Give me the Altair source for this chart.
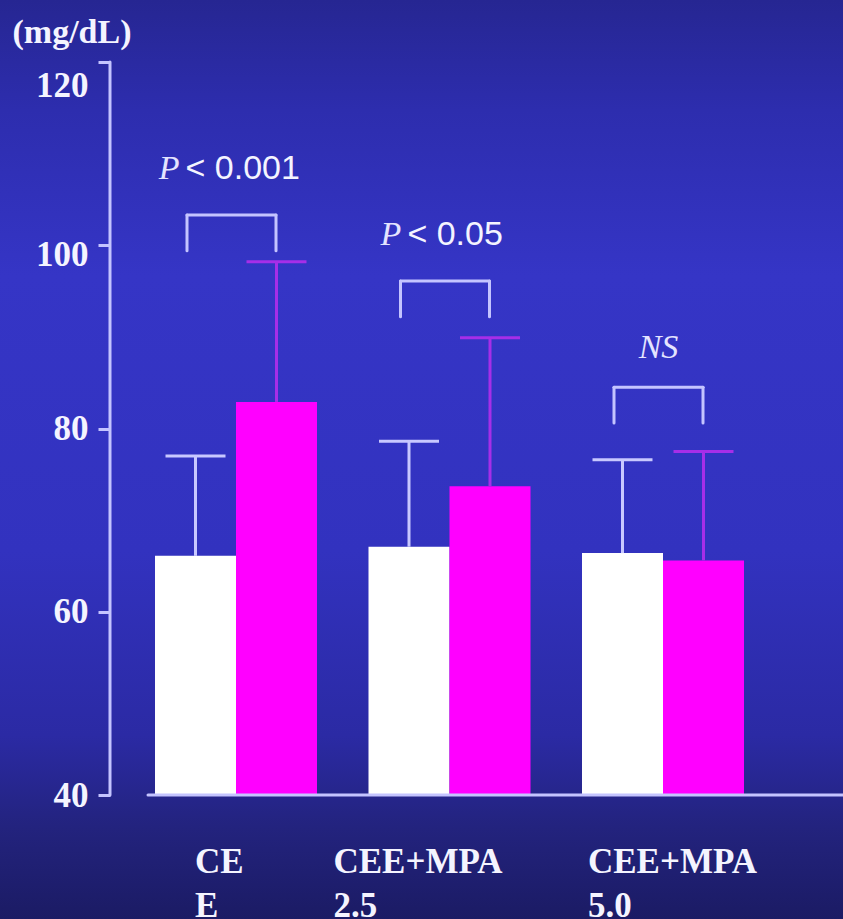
import altair as alt
import pandas as pd

# ---- data -------------------------------------------------------------
groups = ["CE\nE", "CEE+MPA\n2.5", "CEE+MPA\n5.0"]
series = ["pre", "post"]
mean_pre = [66.1, 67.1, 66.4]
mean_post = [82.9, 73.7, 65.6]
sd_pre = [10.9, 11.5, 10.2]
sd_post = [15.3, 16.2, 11.9]
sig_labels = ["P < 0.001", "P < 0.05", "NS"]
bracket_top = [103.3, 96.1, 84.5]
y_ticks = [40, 60, 80, 100, 120]

# ---- layout -----------------------------------------------------------
W, H = 843, 919
STEP = 213.5          # px between group centres
C0 = 236              # px of first group centre
X_DOM = [(0 - C0) / STEP, (W - C0) / STEP]
Y40_PX, Y120_PX = 795, 62
PPU = (Y40_PX - Y120_PX) / 80.0
Y_DOM = [40 - (H - Y40_PX) / PPU, 120 + Y120_PX / PPU]

BAR_W = 81 / STEP
CAP = 30 / STEP
BR_LEFT, BR_RIGHT = -49 / STEP, 40 / STEP
BR_LEG = 3.9
AXIS_X_PX = 110
label_nudge_px = [-41, -116, -75]

LINE = "#c4c4ff"
BG = "#2f2fb8"
SERIF = "Liberation Serif"
SANS = "Liberation Sans"


def X(field, **kw):
    return alt.X(field, type="quantitative",
                 scale=alt.Scale(domain=X_DOM, nice=False, zero=False),
                 axis=None, **kw)


y_axis = alt.Axis(values=y_ticks, offset=-AXIS_X_PX, domain=False, grid=False,
                  zindex=1,
                  tickSize=12, tickWidth=3, tickColor=LINE,
                  labelFont=SERIF, labelFontSize=35, labelFontWeight="bold",
                  labelColor="#f4f4ff", labelPadding=10, labelFlush=False,
                  labelOverlap=False, labelBound=False,
                  # upper labels sit a little below their ticks
                  labelOffset=alt.ExprRef("datum.value >= 120 ? 23 : datum.value >= 100 ? 9 : 0"),
                  title="(mg/dL)", titleAngle=0, titleAlign="left",
                  titleBaseline="middle", titleX=-AXIS_X_PX + 12, titleY=32,
                  titleFont=SERIF, titleFontSize=34, titleFontWeight="bold",
                  titleColor="#f4f4ff")


def Y(field):
    return alt.Y(field, type="quantitative",
                 scale=alt.Scale(domain=Y_DOM, nice=False, zero=False),
                 axis=y_axis)


# ---- tables built from the data ---------------------------------------
rows = []
for i in range(len(groups)):
    for s, m, sd in ((series[0], mean_pre[i], sd_pre[i]),
                     (series[1], mean_post[i], sd_post[i])):
        x0 = i - BAR_W if s == series[0] else i
        x1 = x0 + BAR_W
        xc = (x0 + x1) / 2
        rows.append(dict(group=groups[i], series=s, mean=m, hi=m + sd, base=40,
                         x0=x0, x1=x1, xc=xc, cap0=xc - CAP, cap1=xc + CAP))
bars_df = pd.DataFrame(rows)

seg = []
for i, top in enumerate(bracket_top):
    a, b = i + BR_LEFT, i + BR_RIGHT
    seg.append(dict(x=a, x2=b, y=top, y2=top))
    seg.append(dict(x=a, x2=a, y=top - BR_LEG, y2=top))
    seg.append(dict(x=b, x2=b, y=top - BR_LEG, y2=top))
seg.append(dict(x=(AXIS_X_PX - C0) / STEP, x2=(AXIS_X_PX - C0) / STEP, y=40, y2=120))
seg.append(dict(x=(148 - C0) / STEP, x2=X_DOM[1], y=40, y2=40))
seg_df = pd.DataFrame(seg)

p_rows, ns_rows = [], []
for i, (lab, top) in enumerate(zip(sig_labels, bracket_top)):
    centre = i + (BR_LEFT + BR_RIGHT) / 2
    if lab.startswith("P "):
        rest = lab[2:]
        total = 25 + 16.7 * len(rest)
        split = centre + (-total / 2 + 22) / STEP
        p_rows.append(dict(x=split, y=top + 5, p="P", rest=rest))
    else:
        ns_rows.append(dict(x=centre, y=top + 4.3, t=lab))
p_df = pd.DataFrame(p_rows)
ns_df = pd.DataFrame(ns_rows)

lab_df = pd.DataFrame(dict(
    x=[i + label_nudge_px[i] / STEP for i in range(len(groups))],
    y=[40 - (873 - Y40_PX) / PPU] * len(groups),
    t=groups))

# ---- layers -----------------------------------------------------------
bg = alt.Chart(pd.DataFrame({"k": [0]})).mark_rect(
    fill=alt.Gradient(gradient="linear", x1=0, x2=0, y1=0, y2=1, stops=[
        alt.GradientStop(offset=0.0, color="#262692"),
        alt.GradientStop(offset=0.12, color="#2d2dae"),
        alt.GradientStop(offset=0.3, color="#3535c6"),
        alt.GradientStop(offset=0.6, color="#3232bf"),
        alt.GradientStop(offset=0.8, color="#2b2aa4"),
        alt.GradientStop(offset=0.9, color="#23237e"),
        alt.GradientStop(offset=1.0, color="#1b1b64"),
    ])
).encode(x=alt.value(0), x2=alt.value(W), y=alt.value(0), y2=alt.value(H))

bars = alt.Chart(bars_df).mark_bar().encode(
    x=X("x0"), x2="x1", y=Y("mean"), y2="base",
    color=alt.Color("series:N", scale=alt.Scale(domain=series, range=["#ffffff", "#ff00ff"]),
                    legend=None))

err_stroke = alt.Stroke("series:N", scale=alt.Scale(domain=series, range=["#c8c8ff", "#a62ee8"]),
                        legend=None)
err = alt.Chart(bars_df).mark_rule(strokeWidth=3).encode(
    x=X("xc"), y=Y("mean"), y2="hi", stroke=err_stroke)
caps = alt.Chart(bars_df).mark_rule(strokeWidth=3).encode(
    x=X("cap0"), x2="cap1", y=Y("hi"), stroke=err_stroke)

lines = alt.Chart(seg_df).mark_rule(strokeWidth=3, color=LINE, strokeCap="round").encode(
    x=X("x"), x2="x2", y=Y("y"), y2="y2")

p_letter = alt.Chart(p_df).mark_text(
    font=SERIF, fontStyle="italic", fontSize=34, color="#e4e4ff",
    align="right", baseline="middle", dx=-3).encode(x=X("x"), y=Y("y"), text="p:N")
p_rest = alt.Chart(p_df).mark_text(
    font=SANS, fontSize=34, color="#f4f4ff",
    align="left", baseline="middle", dx=3).encode(x=X("x"), y=Y("y"), text="rest:N")
ns_text = alt.Chart(ns_df).mark_text(
    font=SERIF, fontStyle="italic", fontSize=34, color="#e4e4ff",
    align="center", baseline="middle").encode(x=X("x"), y=Y("y"), text="t:N")

group_text = alt.Chart(lab_df).mark_text(
    font=SERIF, fontWeight="bold", fontSize=35, color="#f4f4ff",
    align="left", baseline="alphabetic", lineBreak="\n", lineHeight=44).encode(
    x=X("x"), y=Y("y"), text="t:N")

chart = alt.layer(bg, bars, err, caps, lines, p_letter, p_rest, ns_text, group_text).properties(
    width=W, height=H,
    autosize=alt.AutoSizeParams(type="none"),
    padding=0,
    background=BG,
).configure_view(stroke=None)

chart.save("out.html", embed_options={"renderer": "svg", "actions": False})
